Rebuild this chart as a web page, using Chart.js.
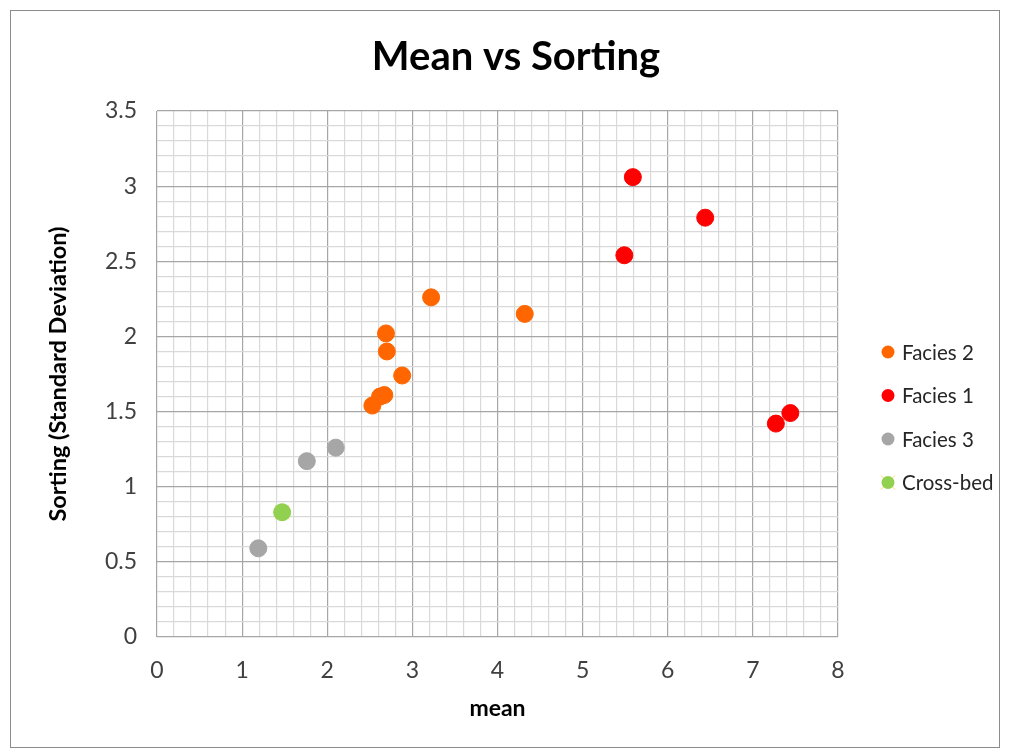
<!DOCTYPE html>
<html>
<head>
<meta charset="utf-8">
<script src="https://cdn.jsdelivr.net/npm/chart.js@4.4.1/dist/chart.umd.min.js"></script>
<style>
  html, body { margin: 0; padding: 0; background: #ffffff; }
  #wrap { width: 1011px; height: 750px; position: relative; }
</style>
</head>
<body>
<div id="wrap"><canvas id="c" width="1011" height="750"></canvas></div>
<script>
// Grain-size statistics per sample: mean (x) and sorting / standard deviation (y)
const facies2Mean = [3.22, 4.32, 2.69, 2.70, 2.88, 2.62, 2.67, 2.53];
const facies2Sort = [2.26, 2.15, 2.02, 1.90, 1.74, 1.60, 1.61, 1.54];

const facies1Mean = [5.59, 6.44, 5.49, 7.44, 7.27];
const facies1Sort = [3.06, 2.79, 2.54, 1.49, 1.42];

const facies3Mean = [2.10, 1.76, 1.19];
const facies3Sort = [1.26, 1.17, 0.59];

const crossBedMean = [1.47];
const crossBedSort = [0.83];

const seriesNames = ['Facies 2', 'Facies 1', 'Facies 3', 'Cross-bed'];
const seriesColors = ['#FF6600', '#FF0000', '#A6A6A6', '#92D050'];

const xTickLabels = ['0', '1', '2', '3', '4', '5', '6', '7', '8'];
const yTickLabels = ['0', '0.5', '1', '1.5', '2', '2.5', '3', '3.5'];

const toPoints = (xs, ys) => xs.map((x, i) => ({ x: x, y: ys[i] }));

const font = 'Lato, "Open Sans", sans-serif';

function isStep(v, step) {
  const r = v / step;
  return Math.abs(r - Math.round(r)) < 1e-6;
}

// White page with a thin frame around the whole chart
const framePlugin = {
  id: 'frame',
  beforeDraw(chart) {
    const ctx = chart.ctx;
    ctx.save();
    ctx.fillStyle = '#ffffff';
    ctx.fillRect(0, 0, chart.width, chart.height);
    ctx.strokeStyle = '#8c8c8c';
    ctx.lineWidth = 1;
    ctx.strokeRect(10.5, 10.5, 989, 737);
    ctx.restore();
  }
};

// Legend drawn to the right of the plot, one marker + name per series
const sideLegend = {
  id: 'sideLegend',
  afterDraw(chart) {
    const ctx = chart.ctx;
    const items = chart.data.datasets.filter(d => d.inLegend !== false);
    const x0 = 888, y0 = 352, gap = 43.5;
    ctx.save();
    items.forEach((ds, i) => {
      const y = y0 + i * gap;
      if (ds.legendCross) {
        ctx.strokeStyle = ds.legendCross;
        ctx.lineWidth = 1;
        ctx.beginPath();
        ctx.moveTo(x0 - 7, y - 7); ctx.lineTo(x0 + 7, y + 7);
        ctx.moveTo(x0 + 7, y - 7); ctx.lineTo(x0 - 7, y + 7);
        ctx.stroke();
      }
      ctx.fillStyle = ds.backgroundColor;
      ctx.beginPath();
      ctx.arc(x0, y, 6.5, 0, Math.PI * 2);
      ctx.fill();
      ctx.fillStyle = '#262626';
      ctx.font = '20.5px ' + font;
      ctx.textBaseline = 'middle';
      ctx.textAlign = 'left';
      ctx.fillText(ds.label, x0 + 14, y + 1);
    });
    ctx.restore();
  }
};

const seriesData = [
  toPoints(facies2Mean, facies2Sort),
  toPoints(facies1Mean, facies1Sort),
  toPoints(facies3Mean, facies3Sort),
  toPoints(crossBedMean, crossBedSort)
];

const datasets = seriesNames.map((name, i) => ({
  label: name,
  data: seriesData[i],
  backgroundColor: seriesColors[i],
  borderColor: seriesColors[i],
  borderWidth: 1,
  pointRadius: 8.5,
  pointHoverRadius: 8.5,
  order: 1
}));
datasets[3].legendCross = '#FFD966';

// Pale cross drawn behind the cross-bed marker
datasets.push({
  label: 'Cross-bed cross',
  inLegend: false,
  data: seriesData[3],
  pointStyle: 'crossRot',
  pointRadius: 10,
  borderColor: '#FFD966',
  borderWidth: 1,
  backgroundColor: 'transparent',
  order: 2
});

new Chart(document.getElementById('c'), {
  type: 'scatter',
  data: { datasets: datasets },
  options: {
    responsive: false,
    animation: false,
    devicePixelRatio: 1,
    layout: { padding: { left: 44, right: 23, top: 10, bottom: 28 } },
    plugins: {
      legend: { display: false },
      tooltip: { enabled: false },
      title: {
        display: true,
        text: 'Mean vs Sorting',
        color: '#000000',
        font: { family: font, size: 40, weight: 'bold' },
        padding: { top: 23, bottom: 30 }
      }
    },
    scales: {
      x: {
        type: 'linear',
        min: 0, max: 8,
        afterFit(scale) { scale.height = 85; },
        border: { display: false },
        grid: {
          drawTicks: false,
          color: ctx => isStep(ctx.tick.value, 1) ? '#a6a6a6' : '#d9d9d9',
          lineWidth: 1.2
        },
        ticks: {
          stepSize: 0.2,
          autoSkip: false,
          maxRotation: 0,
          padding: 20,
          color: '#404040',
          font: { family: font, size: 23 },
          callback: v => isStep(v, 1) ? xTickLabels[Math.round(v)] : ''
        },
        title: {
          display: true,
          text: 'mean',
          color: '#000000',
          font: { family: font, size: 23, weight: 'bold' },
          padding: { top: 0, bottom: 0 }
        }
      },
      y: {
        type: 'linear',
        min: 0, max: 3.5,
        afterFit(scale) { scale.width = 113; },
        border: { display: false },
        grid: {
          drawTicks: false,
          color: ctx => isStep(ctx.tick.value, 0.5) ? '#a6a6a6' : '#d9d9d9',
          lineWidth: 1.2
        },
        ticks: {
          stepSize: 0.1,
          autoSkip: false,
          padding: 20,
          color: '#404040',
          font: { family: font, size: 23 },
          callback: v => isStep(v, 0.5) ? yTickLabels[Math.round(v / 0.5)] : ''
        },
        title: {
          display: true,
          text: 'Sorting (Standard Deviation)',
          color: '#000000',
          font: { family: font, size: 23.5, weight: 'bold' },
          padding: { top: 0, bottom: 0 }
        }
      },
      // Empty right-hand axis that keeps room for the legend
      yRight: {
        type: 'linear',
        position: 'right',
        min: 0, max: 3.5,
        afterFit(scale) { scale.width = 150; },
        border: { display: false },
        grid: { display: false, drawTicks: false },
        ticks: { display: false }
      }
    }
  },
  plugins: [framePlugin, sideLegend]
});
</script>
</body>
</html>
